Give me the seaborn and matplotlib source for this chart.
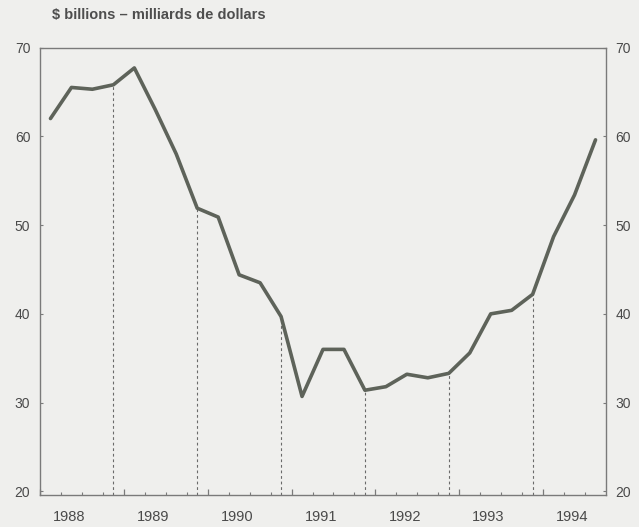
import numpy as np
import pandas as pd
import matplotlib
matplotlib.use("Agg")
import matplotlib.pyplot as plt
import seaborn as sns

# ---- data ----
quarters = ["1988Q1", "1988Q2", "1988Q3", "1988Q4",
            "1989Q1", "1989Q2", "1989Q3", "1989Q4",
            "1990Q1", "1990Q2", "1990Q3", "1990Q4",
            "1991Q1", "1991Q2", "1991Q3", "1991Q4",
            "1992Q1", "1992Q2", "1992Q3", "1992Q4",
            "1993Q1", "1993Q2", "1993Q3", "1993Q4",
            "1994Q1", "1994Q2", "1994Q3"]
values = [62.0, 65.5, 65.3, 65.8,
          67.7, 63.0, 58.0, 51.9,
          50.9, 44.4, 43.5, 39.7,
          30.7, 36.0, 36.0, 31.4,
          31.8, 33.2, 32.8, 33.3,
          35.6, 40.0, 40.4, 42.2,
          48.7, 53.4, 59.6]
marker_quarters = ["1988Q4", "1989Q4", "1990Q4", "1991Q4", "1992Q4", "1993Q4"]
year_labels = ["1988", "1989", "1990", "1991", "1992", "1993", "1994"]
y_ticks = [20, 30, 40, 50, 60, 70]
title = r"\$ billions – milliards de dollars"


def qpos(q):
    return int(q[:4]) + (int(q[-1]) - 0.5) / 4.0


df = pd.DataFrame({"quarter": quarters, "value": values})
df["pos"] = df["quarter"].map(qpos)

sns.set_theme(style="white")
plt.rcParams["font.family"] = ["Liberation Sans", "DejaVu Sans"]

bg = "#efefed"
fig = plt.figure(figsize=(6.39, 5.27), dpi=100, facecolor=bg)
ax = fig.add_axes([40 / 639, 1 - 495 / 527, 566 / 639, (495 - 47.5) / 527])
ax.set_facecolor(bg)

ymin, ymax = 19.6, 70.0
xmin, xmax = 1988.0, 1994.75

# dashed markers at each fourth quarter
mdf = df[df["quarter"].isin(marker_quarters)]
ax.vlines(mdf["pos"], ymin, mdf["value"], colors="#6a6a6a",
          linestyles=(0, (2.5, 2.5)), linewidth=0.8, zorder=1)

sns.lineplot(data=df, x="pos", y="value", ax=ax, color="#5e635a",
             linewidth=2.6, zorder=3)

ax.set_xlim(xmin, xmax)
ax.set_ylim(ymin, ymax)
ax.set_xlabel("")
ax.set_ylabel("")

for s in ax.spines.values():
    s.set_color("#7a7a7a")
    s.set_linewidth(1.0)

# x ticks: years (major) and quarters (minor), pointing inward, no labels
years = [int(y) for y in year_labels]
ax.set_xticks(years)
ax.set_xticks([y + k / 4 for y in years for k in (1, 2, 3) if y + k / 4 < xmax], minor=True)
ax.tick_params(axis="x", which="major", direction="in", length=4, width=0.9,
               color="#7a7a7a", labelbottom=False, bottom=True)
ax.tick_params(axis="x", which="minor", direction="in", length=2, width=0.8,
               color="#7a7a7a", bottom=True)

# y ticks on both sides
ax.set_yticks(y_ticks)
ax.tick_params(axis="y", which="major", direction="in", length=2, width=0.8,
               color="#7a7a7a", left=True, right=True,
               labelleft=True, labelright=True, labelsize=10,
               labelcolor="#4a4a4a", pad=7)

# year labels
for lbl in year_labels:
    ax.annotate(lbl, xy=(int(lbl) + 0.35, 0), xycoords=("data", "axes fraction"),
                xytext=(0, -16), textcoords="offset points",
                ha="center", va="center", fontsize=10.5, color="#4a4a4a")

fig.text(52 / 639, 1 - 15 / 527, title, ha="left", va="center",
         fontsize=10.5, fontweight="bold", color="#4e4e4e")

fig.savefig("out.png", dpi=100, facecolor=bg)
